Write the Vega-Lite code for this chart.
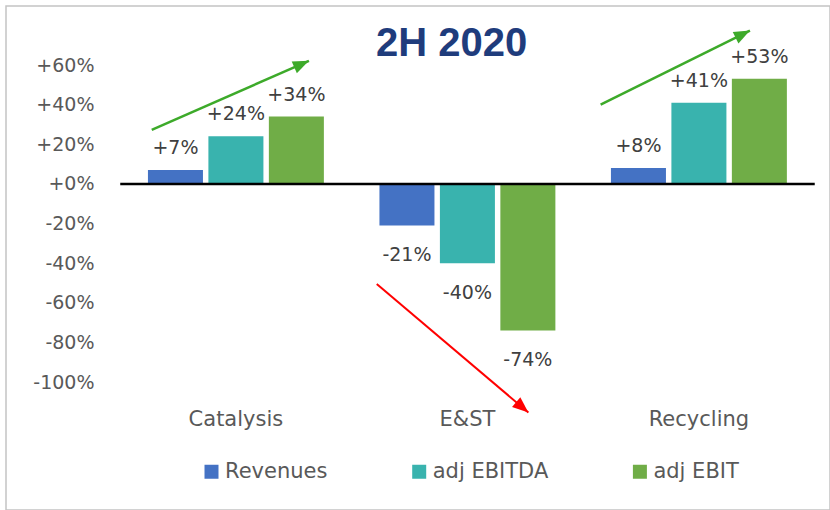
{
  "$schema": "https://vega.github.io/schema/vega-lite/v6.json",
  "width": 824,
  "height": 504,
  "autosize": {"type": "none"},
  "padding": {"left": 6, "top": 6, "right": 0, "bottom": 0},
  "background": "white",
  "config": {
    "view": {"stroke": "#C4C4C4", "strokeWidth": 1.5},
    "locale": {"number": {"decimal": ".", "thousands": ",", "grouping": [3], "currency": ["$", ""], "minus": "-"}},
    "font": "DejaVu Sans"
  },
  "title": {
    "text": "2H 2020",
    "anchor": "middle",
    "frame": "group",
    "orient": "top",
    "offset": -90,
    "dx": 33.5,
    "baseline": "alphabetic",
    "fontSize": 40,
    "font": "Liberation Sans",
    "fontWeight": "bold",
    "color": "#1F3C7C"
  },
  "datasets": {
    "bars": [
      {"segment": "Catalysis", "metric": "Revenues", "value": 0.07},
      {"segment": "Catalysis", "metric": "adj EBITDA", "value": 0.24},
      {"segment": "Catalysis", "metric": "adj EBIT", "value": 0.34},
      {"segment": "E&ST", "metric": "Revenues", "value": -0.21},
      {"segment": "E&ST", "metric": "adj EBITDA", "value": -0.40},
      {"segment": "E&ST", "metric": "adj EBIT", "value": -0.74},
      {"segment": "Recycling", "metric": "Revenues", "value": 0.08},
      {"segment": "Recycling", "metric": "adj EBITDA", "value": 0.41},
      {"segment": "Recycling", "metric": "adj EBIT", "value": 0.53}
    ],
    "arrows": [
      {"arrow": "Catalysis", "u1": -0.364, "v1": 0.273, "u2": 0.315, "v2": 0.621},
      {"arrow": "E&ST", "u1": 0.608, "v1": -0.505, "u2": 1.263, "v2": -1.154},
      {"arrow": "Recycling", "u1": 1.575, "v1": 0.400, "u2": 2.220, "v2": 0.774}
    ],
    "baseline": [{"u1": -0.5, "u2": 2.5, "v": 0}]
  },
  "layer": [
    {
      "layer": [
        {
          "data": {"name": "bars"},
          "mark": {"type": "bar"},
          "encoding": {
            "x": {
              "field": "segment", "type": "nominal",
              "sort": ["Catalysis", "E&ST", "Recycling"],
              "scale": {"paddingInner": 0.24, "paddingOuter": 0.3997, "align": 0.767},
              "axis": {"orient": "bottom", "offset": -85, "title": null, "ticks": false, "domain": false, "grid": false, "labelAngle": 0, "labelPadding": 0, "labelBaseline": "alphabetic", "labelFontSize": 21, "labelColor": "#595959", "labelFont": "DejaVu Sans"}
            },
            "xOffset": {"field": "metric", "type": "nominal", "sort": ["Revenues", "adj EBITDA", "adj EBIT"], "scale": {"paddingInner": 0.09, "paddingOuter": 0}},
            "y": {
              "field": "value", "type": "quantitative",
              "scale": {"domain": [-1.646, 0.8978], "nice": false, "zero": false},
              "axis": {"orient": "left", "offset": -88, "title": null, "ticks": false, "domain": false, "grid": false, "values": [-1, -0.8, -0.6, -0.4, -0.2, 0, 0.2, 0.4, 0.6], "format": "+.0%", "labelPadding": 0, "labelFontSize": 19, "labelColor": "#595959", "labelFont": "DejaVu Sans", "labelBaseline": "middle"}
            },
            "y2": {"datum": 0},
            "color": {
              "field": "metric", "type": "nominal",
              "sort": ["Revenues", "adj EBITDA", "adj EBIT"],
              "scale": {"domain": ["Revenues", "adj EBITDA", "adj EBIT"], "range": ["#4472C4", "#39B3AE", "#70AD47"]},
              "legend": {"orient": "none", "legendX": 195, "legendY": 455, "direction": "horizontal", "columns": 3, "title": null, "symbolType": "square", "symbolSize": 196, "symbolStrokeWidth": 0, "symbolOpacity": 1, "labelFontSize": 21, "labelColor": "#595959", "labelFont": "DejaVu Sans", "labelOffset": 3, "columnPadding": 80.7, "padding": 0}
            }
          }
        },
        {
          "data": {"name": "bars"},
          "transform": [{"filter": "datum.value > 0"}],
          "mark": {"type": "text", "baseline": "alphabetic", "align": "center", "dy": -16, "fontSize": 19, "color": "#404040", "font": "DejaVu Sans"},
          "encoding": {
            "x": {"field": "segment", "type": "nominal", "sort": ["Catalysis", "E&ST", "Recycling"]},
            "xOffset": {"field": "metric", "type": "nominal", "sort": ["Revenues", "adj EBITDA", "adj EBIT"]},
            "y": {"field": "value", "type": "quantitative", "scale": {"domain": [-1.646, 0.8978], "nice": false, "zero": false}},
            "text": {"field": "value", "type": "quantitative", "format": "+.0%"}
          }
        },
        {
          "data": {"name": "bars"},
          "transform": [{"filter": "datum.value < 0"}],
          "mark": {"type": "text", "baseline": "alphabetic", "align": "center", "dy": 36, "fontSize": 19, "color": "#404040", "font": "DejaVu Sans"},
          "encoding": {
            "x": {"field": "segment", "type": "nominal", "sort": ["Catalysis", "E&ST", "Recycling"]},
            "xOffset": {"field": "metric", "type": "nominal", "sort": ["Revenues", "adj EBITDA", "adj EBIT"]},
            "y": {"field": "value", "type": "quantitative", "scale": {"domain": [-1.646, 0.8978], "nice": false, "zero": false}},
            "text": {"field": "value", "type": "quantitative", "format": "+.0%"}
          }
        }
      ]
    },
    {
      "layer": [
        {
          "data": {"name": "baseline"},
          "mark": {"type": "rule", "color": "#000000", "strokeWidth": 2.5},
          "encoding": {
            "x": {"field": "u1", "type": "quantitative", "scale": {"domain": [-0.9935, 2.5659], "nice": false, "zero": false}, "axis": null},
            "x2": {"field": "u2"},
            "y": {"field": "v", "type": "quantitative", "title": null, "scale": {"domain": [-1.646, 0.8978], "nice": false, "zero": false}}
          }
        },
        {
          "data": {"name": "arrows"},
          "transform": [{"filter": "datum.arrow != 'E&ST'"}],
          "mark": {"type": "rule", "color": "#3DAA2A", "strokeWidth": 2.5},
          "encoding": {
            "x": {"field": "u1", "type": "quantitative", "scale": {"domain": [-0.9935, 2.5659], "nice": false, "zero": false}, "axis": null},
            "x2": {"field": "u2"},
            "y": {"field": "v1", "type": "quantitative", "title": null, "scale": {"domain": [-1.646, 0.8978], "nice": false, "zero": false}},
            "y2": {"field": "v2"}
          }
        },
        {
          "data": {"name": "arrows"},
          "transform": [{"filter": "datum.arrow == 'E&ST'"}],
          "mark": {"type": "rule", "color": "#FF0000", "strokeWidth": 2},
          "encoding": {
            "x": {"field": "u1", "type": "quantitative", "scale": {"domain": [-0.9935, 2.5659], "nice": false, "zero": false}, "axis": null},
            "x2": {"field": "u2"},
            "y": {"field": "v1", "type": "quantitative", "title": null, "scale": {"domain": [-1.646, 0.8978], "nice": false, "zero": false}},
            "y2": {"field": "v2"}
          }
        },
        {
          "data": {"name": "arrows"},
          "transform": [{"filter": "datum.arrow == 'Catalysis'"}],
          "mark": {"type": "point", "shape": "M0,0L0.8,2L-0.8,2Z", "filled": true, "opacity": 1, "color": "#3DAA2A", "size": 256, "angle": 66.3, "strokeWidth": 0},
          "encoding": {
            "x": {"field": "u2", "type": "quantitative", "scale": {"domain": [-0.9935, 2.5659], "nice": false, "zero": false}, "axis": null},
            "y": {"field": "v2", "type": "quantitative", "title": null, "scale": {"domain": [-1.646, 0.8978], "nice": false, "zero": false}}
          }
        },
        {
          "data": {"name": "arrows"},
          "transform": [{"filter": "datum.arrow == 'Recycling'"}],
          "mark": {"type": "point", "shape": "M0,0L0.8,2L-0.8,2Z", "filled": true, "opacity": 1, "color": "#3DAA2A", "size": 256, "angle": 63.6, "strokeWidth": 0},
          "encoding": {
            "x": {"field": "u2", "type": "quantitative", "scale": {"domain": [-0.9935, 2.5659], "nice": false, "zero": false}, "axis": null},
            "y": {"field": "v2", "type": "quantitative", "title": null, "scale": {"domain": [-1.646, 0.8978], "nice": false, "zero": false}}
          }
        },
        {
          "data": {"name": "arrows"},
          "transform": [{"filter": "datum.arrow == 'E&ST'"}],
          "mark": {"type": "point", "shape": "M0,0L0.8,2L-0.8,2Z", "filled": true, "opacity": 1, "color": "#FF0000", "size": 256, "angle": 130.3, "strokeWidth": 0},
          "encoding": {
            "x": {"field": "u2", "type": "quantitative", "scale": {"domain": [-0.9935, 2.5659], "nice": false, "zero": false}, "axis": null},
            "y": {"field": "v2", "type": "quantitative", "title": null, "scale": {"domain": [-1.646, 0.8978], "nice": false, "zero": false}}
          }
        }
      ]
    }
  ],
  "resolve": {"scale": {"x": "independent"}, "axis": {"x": "independent"}}
}
